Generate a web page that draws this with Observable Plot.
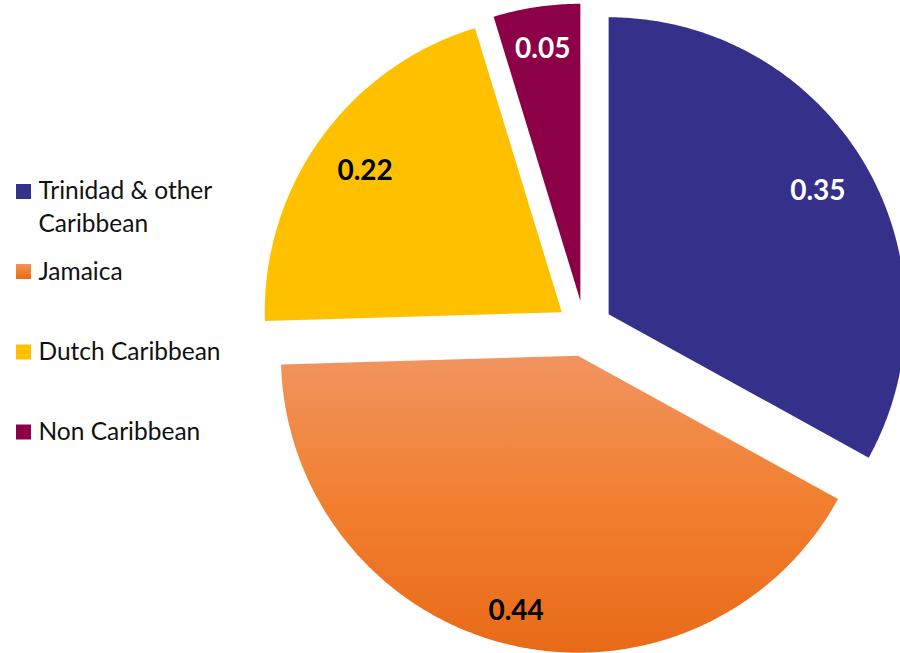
<!DOCTYPE html>
<html>
<head>
<meta charset="utf-8">
<script src="https://cdn.jsdelivr.net/npm/d3@7"></script>
<script src="https://cdn.jsdelivr.net/npm/@observablehq/plot@0.6"></script>
<style>
  html, body { margin: 0; padding: 0; background: #ffffff; }
  #chart { width: 900px; height: 653px; overflow: hidden; }
</style>
</head>
<body>
<div id="chart"></div>
<script>
// ---- Data ----
const categories = ["Trinidad & other Caribbean", "Jamaica", "Dutch Caribbean", "Non Caribbean"];
const legendText = ["Trinidad & other\nCaribbean", "Jamaica", "Dutch Caribbean", "Non Caribbean"];
const values = [0.35, 0.44, 0.22, 0.05];
const valueLabels = ["0.35", "0.44", "0.22", "0.05"];
const sliceColors = ["#35308A", "#EF7A2E", "#FFC000", "#8B0047"];
const labelColors = ["#ffffff", "#000000", "#000000", "#ffffff"];

// ---- Layout ----
const W = 900, H = 653;
const cx = 584, cy = 328, R = 297, explode = 28;
const labelRadii = [243, 263, 242, 255];

const total = d3.sum(values);
let acc = 0;
const slices = categories.map((c, i) => {
  const a0 = acc / total * 2 * Math.PI;
  acc += values[i];
  const a1 = acc / total * 2 * Math.PI;
  const mid = (a0 + a1) / 2;
  const ox = cx + explode * Math.sin(mid), oy = cy - explode * Math.cos(mid);
  const pts = [{slice: c, x: ox, y: oy}];
  const n = Math.max(8, Math.ceil((a1 - a0) / (Math.PI / 360)));
  for (let k = 0; k <= n; k++) {
    const a = a0 + (a1 - a0) * k / n;
    pts.push({slice: c, x: ox + R * Math.sin(a), y: oy - R * Math.cos(a)});
  }
  pts.push({slice: c, x: ox, y: oy});
  const lr = labelRadii[i];
  return {category: c, i, pts, lx: ox + lr * Math.sin(mid), ly: oy - lr * Math.cos(mid)};
});

const labelData = slices.map(s => ({x: s.lx, y: s.ly, text: valueLabels[s.i], color: labelColors[s.i]}));

const legendRowY = [191.5, 271.5, 352, 432];
const legendData = categories.map((c, i) => ({
  category: c, text: legendText[i], color: sliceColors[i],
  y: legendRowY[i], ty: (i === 0 ? legendRowY[i] + 16 : legendRowY[i]) - 3
}));

const plot = Plot.plot({
  width: W, height: H,
  margin: 0,
  x: {domain: [0, W], range: [0, W], axis: null},
  y: {domain: [0, H], range: [0, H], axis: null},
  style: {fontFamily: "Lato, 'Open Sans', sans-serif", background: "transparent"},
  marks: [
    ...slices.map(s => Plot.line(s.pts, {
      x: "x", y: "y", fill: sliceColors[s.i], stroke: "none", curve: "linear",
      className: "slice-" + s.i
    })),
    Plot.text(labelData, {
      x: "x", y: "y", text: "text", fill: d => d.color,
      fontSize: 28, fontWeight: "bold", textAnchor: "middle", lineAnchor: "middle"
    }),
    Plot.rect(legendData, {
      x1: () => 16, x2: () => 31, y1: d => d.y - 7.5, y2: d => d.y + 7.5,
      fill: "color", inset: 0
    }),
    Plot.text(legendData, {
      x: () => 38, y: "ty", text: "text", fill: "#111111",
      fontSize: 24.5, textAnchor: "start", lineAnchor: "middle", lineHeight: 1.35
    })
  ],
  color: {type: "identity"}
});

// gradient for the Jamaica slice
const svgNS = "http://www.w3.org/2000/svg";
const defs = document.createElementNS(svgNS, "defs");
const grad = document.createElementNS(svgNS, "linearGradient");
grad.setAttribute("id", "jamGrad");
grad.setAttribute("x1", "0"); grad.setAttribute("y1", "0");
grad.setAttribute("x2", "0"); grad.setAttribute("y2", "1");
[["0", "#F19460"], ["0.5", "#F17F2F"], ["1", "#E86A18"]].forEach(([o, c]) => {
  const st = document.createElementNS(svgNS, "stop");
  st.setAttribute("offset", o); st.setAttribute("stop-color", c);
  grad.appendChild(st);
});
defs.appendChild(grad);
plot.insertBefore(defs, plot.firstChild);
plot.querySelectorAll(".slice-1 path").forEach(p => p.setAttribute("fill", "url(#jamGrad)"));
const g1 = plot.querySelector("g.slice-1");
if (g1) g1.setAttribute("fill", "url(#jamGrad)");

// legend swatch gradient for Jamaica
const grad2 = grad.cloneNode(true);
grad2.setAttribute("id", "jamGrad2");
defs.appendChild(grad2);
const rects = plot.querySelectorAll("rect");
rects.forEach(r => { if ((r.getAttribute("fill") || "").toUpperCase() === "#EF7A2E") r.setAttribute("fill", "url(#jamGrad2)"); });

document.getElementById("chart").appendChild(plot);
</script>
</body>
</html>
